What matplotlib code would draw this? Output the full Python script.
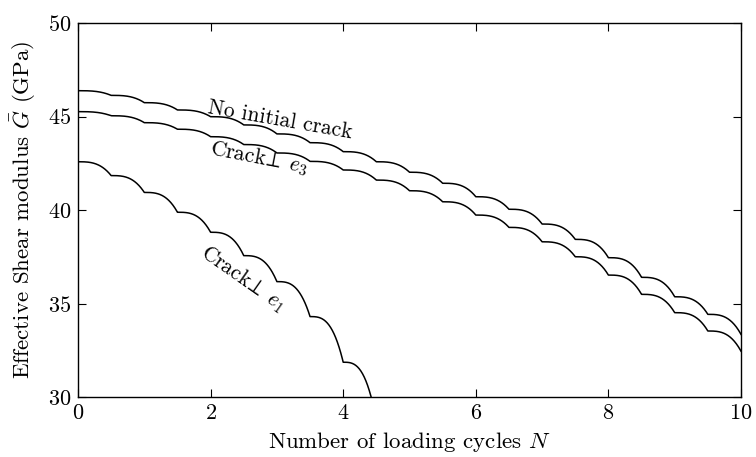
import numpy as np
import matplotlib
matplotlib.use("Agg")
import matplotlib.pyplot as plt

plt.rcParams['font.family'] = 'serif'
plt.rcParams['font.serif'] = ['cmr10']
plt.rcParams['mathtext.fontset'] = 'cm'
plt.rcParams['axes.unicode_minus'] = False
plt.rcParams['axes.formatter.use_mathtext'] = True

# Step levels read at every half loading cycle
cycles = [0.0, 0.5, 1.0, 1.5, 2.0, 2.5, 3.0, 3.5, 4.0, 4.5, 5.0,
          5.5, 6.0, 6.5, 7.0, 7.5, 8.0, 8.5, 9.0, 9.5, 10.0]
no_crack = [46.38, 46.13, 45.74, 45.35, 44.99, 44.55, 44.07, 43.60, 43.12, 42.58, 42.02,
            41.43, 40.71, 40.04, 39.25, 38.43, 37.45, 36.40, 35.36, 34.42, 33.35]
crack_e3 = [45.26, 45.04, 44.67, 44.32, 43.92, 43.50, 43.05, 42.60, 42.14, 41.60, 41.03,
            40.44, 39.73, 39.07, 38.30, 37.50, 36.52, 35.49, 34.51, 33.53, 32.45]
cycles_e1 = [0.0, 0.5, 1.0, 1.5, 2.0, 2.5, 3.0, 3.5, 4.0, 4.5]
crack_e1 = [42.58, 41.84, 40.94, 39.88, 38.81, 37.56, 36.17, 34.30, 31.86, 28.75]

labels = ['No initial crack', r'Crack$\!\perp\;e_3$', r'Crack$\!\perp\;e_1$']
xticks = [0, 2, 4, 6, 8, 10]
yticks = [30, 35, 40, 45, 50]


def staircase(xk, yk, n=80):
    xs, ys = [], []
    t = np.linspace(0, 1, n)
    for k in range(len(xk) - 1):
        d = yk[k] - yk[k + 1]
        xs.append(xk[k] + (xk[k + 1] - xk[k]) * t)
        ys.append(yk[k] - d * t ** 3)
    return np.concatenate(xs), np.concatenate(ys)


fig = plt.figure(figsize=(7.56, 4.57), dpi=100)
ax = fig.add_axes([78 / 756, 1 - 397 / 457, (741 - 78) / 756, 374 / 457])

for xk, yk in [(cycles, no_crack), (cycles_e1, crack_e1), (cycles, crack_e3)]:
    x, y = staircase(xk, yk)
    ax.plot(x, y, color='black', lw=1.1)

ax.set_xlim(0, 10)
ax.set_ylim(30, 50)
ax.set_xticks(xticks)
ax.set_yticks(yticks)
ax.tick_params(direction='in', length=6, width=0.8, top=True, right=True,
               labelsize=16, pad=5)
for s in ax.spines.values():
    s.set_linewidth(1.0)

ax.set_xlabel(r'Number of loading cycles $N$', fontsize=16.5, labelpad=5)
ax.set_ylabel(r'Effective Shear modulus $\bar{G}$ (GPa)', fontsize=16.5, labelpad=7)

ax.text(1.95, 45.2, labels[0], fontsize=15.5, rotation=-10, ha='left', va='baseline',
        rotation_mode='anchor')
ax.text(1.97, 42.95, labels[1], fontsize=15.5, rotation=-11, ha='left', va='baseline',
        rotation_mode='anchor')
ax.text(1.98, 38.35, labels[2], fontsize=15.5, rotation=-35, ha='left', va='top',
        rotation_mode='anchor')

fig.savefig('out.png', dpi=100)
